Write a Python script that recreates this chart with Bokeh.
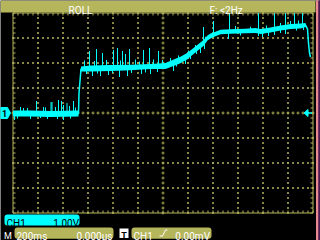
import numpy as np
from bokeh.plotting import figure
from bokeh.models import BoxAnnotation, Label
from bokeh.core.properties import value
from bokeh.embed import file_html
from bokeh.resources import INLINE

# ---------------- data (time in ms, voltage in V) ----------------
time_ms = [0, 140, 300, 524, 528, 536, 544, 620, 780, 940, 1100, 1220, 1300, 1340,
           1396, 1444, 1484, 1524, 1556, 1580, 1620, 1660, 1740, 1860, 1940, 1980,
           2060, 2140, 2220, 2300, 2340, 2356, 2364, 2372, 2380]
volts = [-0.02, -0.02, -0.04, -0.02, 0.8, 1.28, 1.76, 1.78, 1.8, 1.82, 1.86, 1.88,
         2.04, 2.12, 2.28, 2.48, 2.64, 2.8, 3.0, 3.08, 3.16, 3.24, 3.26, 3.28, 3.3,
         3.26, 3.32, 3.4, 3.46, 3.48, 3.52, 3.36, 2.8, 2.4, 2.24]
noise_band = [0.12, 0.12, 0.12, 0.12, 0, 0, 0.1, 0.12, 0.12, 0.11, 0.1, 0.12,
              0.13, 0.13, 0.13, 0.12, 0.12, 0.12, 0.1, 0.1, 0.09, 0.09, 0.09, 0.09,
              0.1, 0.1, 0.1, 0.1, 0.1, 0.1, 0.08, 0, 0, 0, 0]

spike_up_t = [60, 84, 116, 188, 244, 260, 304, 312, 340, 364, 388, 404, 432, 452, 484, 500,
              572, 612, 652, 668, 716, 748, 804, 836, 860, 876, 900, 932, 980, 1012, 1044,
              1092, 1124, 1164, 1196,
              1260, 1324, 1404, 1460, 1524, 1540, 1604, 1732,
              1780, 1900, 1964, 2028, 2092, 2140, 2180, 2220, 2252, 2284, 2316]
spike_up_v = [0.24, 0.2, 0.2, 0.48, 0.24, 0.22, 0.44, 0.44, 0.24, 0.52, 0.48, 0.32, 0.4, 0.28, 0.48, 0.22,
              2.1, 2.48, 2.08, 2.56, 2.4, 2.12, 2.52, 2.6, 2.1, 2.48, 2.36, 2.56, 2.14, 2.06, 2.52,
              2.6, 2.14, 2.48, 2.12,
              2.2, 2.3, 2.5, 2.72, 3.44, 3.05, 3.68, 4.0,
              3.48, 3.45, 4.0, 3.5, 4.0, 3.6, 4.0, 3.68, 4.0, 3.7, 4.0]
spike_dn_t = [12, 36, 140, 220, 276, 356, 404, 460,
              588, 636, 676, 700, 764, 796, 852, 916, 948, 1028, 1060, 1100, 1156,
              1284, 1308, 1380, 1420, 1468, 1500, 1532, 1724,
              1820, 1964, 1996, 2044, 2092, 2140, 2180, 2268, 2324]
spike_dn_v = [-0.28, -0.22, -0.24, -0.2, -0.24, -0.24, -0.28, -0.22,
              1.56, 1.48, 1.58, 1.48, 1.52, 1.6, 1.44, 1.48, 1.6, 1.56, 1.62, 1.56, 1.64,
              1.68, 1.86, 1.96, 2.16, 2.36, 2.4, 2.56, 2.96,
              3.1, 3.08, 3.04, 3.08, 3.12, 3.2, 3.16, 3.3, 3.32]

# ---------------- readouts ----------------
mode_text = "ROLL"
freq_text = "F: <2Hz"
ch_name = "CH1"
ch_scale = "1.00V"
time_mark = "M"
time_scale = "200ms"
time_offset = "0.000µs"
trig_mark = "T"
trig_src = "CH1"
trig_level = "0.00mV"

MS_PER_DIV = 200
V_PER_DIV = 1.0
PX_PER_DIV = 25.0

OLIVE = "#B5B55C"
GRIDC = "#A9A955"
CYAN = "#00FFFF"
FONT = value("Roboto")


def X(px):
    return (px - 12.5) / PX_PER_DIV * MS_PER_DIV


def Y(py):
    return (112.5 - py) / PX_PER_DIV * V_PER_DIV


p = figure(width=320, height=240, x_range=(X(0), X(320)), y_range=(Y(240), Y(0)),
           x_axis_type=None, y_axis_type=None, toolbar_location=None, title=None,
           output_backend="svg", min_border=0)
p.background_fill_color = "black"
p.border_fill_color = "black"
p.outline_line_color = None

# top bar and right stripes
p.add_layout(BoxAnnotation(left=X(0), right=X(315), top=Y(0), bottom=Y(12),
                           fill_color=OLIVE, fill_alpha=1, line_color=None, level="underlay"))
p.quad(left=X(316), right=X(318.3), top=Y(0), bottom=Y(240), color="#E98A93")
p.quad(left=X(318.3), right=X(320), top=Y(0), bottom=Y(240), color="#4A1C50")

# dotted grid
dots_x, dots_y = [], []
for k in range(1, 12):
    if k == 6:
        continue
    for j in range(0, 41):
        dots_x.append(12.5 + 25 * k)
        dots_y.append(12.5 + 5 * j)
for k in range(1, 8):
    if k == 4:
        continue
    for j in range(0, 61):
        dots_x.append(12.5 + 5 * j)
        dots_y.append(12.5 + 25 * k)
dots_x = np.array(dots_x)
dots_y = np.array(dots_y)
p.quad(left=X(dots_x - 0.5), right=X(dots_x + 0.5), top=Y(dots_y - 0.5),
       bottom=Y(dots_y + 0.5), color=GRIDC)

# center crosshair with + marks
cx = np.arange(12.5, 313, 5.0)
cy = np.arange(12.5, 213, 5.0)
p.segment(x0=X(cx - 1.5), y0=Y(112.5), x1=X(cx + 1.5), y1=Y(112.5), color=GRIDC, line_width=1)
p.segment(x0=X(cx), y0=Y(111), x1=X(cx), y1=Y(114), color=GRIDC, line_width=1)
p.segment(x0=X(162.5), y0=Y(cy - 1.5), x1=X(162.5), y1=Y(cy + 1.5), color=GRIDC, line_width=1)
p.segment(x0=X(161), y0=Y(cy), x1=X(164), y1=Y(cy), color=GRIDC, line_width=1)

# border with ruler ticks
p.segment(x0=X(np.array([12.5, 312.5, 12.5, 12.5])), y0=Y(np.array([12.5, 12.5, 12.5, 212.5])),
          x1=X(np.array([12.5, 312.5, 312.5, 312.5])), y1=Y(np.array([212.5, 212.5, 12.5, 212.5])),
          color=OLIVE, line_width=1)
p.segment(x0=X(cx), y0=Y(12.5), x1=X(cx), y1=Y(15), color=OLIVE, line_width=1)
p.segment(x0=X(cx), y0=Y(210), x1=X(cx), y1=Y(212.5), color=OLIVE, line_width=1)
p.segment(x0=X(12.5), y0=Y(cy), x1=X(15), y1=Y(cy), color=OLIVE, line_width=1)
p.segment(x0=X(310), y0=Y(cy), x1=X(312.5), y1=Y(cy), color=OLIVE, line_width=1)

# ---------------- trace ----------------
t = np.array(time_ms, dtype=float)
v = np.array(volts)
b = np.array(noise_band)
p.varea(x=t, y1=v - b, y2=v + b, fill_color=CYAN)
p.line(t, v, color=CYAN, line_width=1.5)
su_t = np.array(spike_up_t, dtype=float)
sd_t = np.array(spike_dn_t, dtype=float)
p.segment(x0=su_t, y0=np.interp(su_t, t, v), x1=su_t, y1=spike_up_v, color=CYAN, line_width=1)
p.segment(x0=sd_t, y0=np.interp(sd_t, t, v), x1=sd_t, y1=spike_dn_v, color=CYAN, line_width=1)

# channel ground marker (left) and trigger level marker (right)
p.patch(X(np.array([0, 7, 10, 7, 0])), Y(np.array([107, 107, 112.5, 118, 118])), color=CYAN)
p.patch(X(np.array([303.5, 307.5, 307.5])), Y(np.array([112.5, 109, 116])), color=CYAN)
p.segment(x0=[X(307)], y0=[Y(112.5)], x1=[X(311.5)], y1=[Y(112.5)], color=CYAN, line_width=1.5)

# bottom readout boxes
p.add_layout(BoxAnnotation(left=X(4), right=X(79), top=Y(214), bottom=Y(225),
                           fill_color=CYAN, fill_alpha=1, line_color=None,
                           border_radius=3, level="underlay"))
p.add_layout(BoxAnnotation(left=X(14), right=X(113), top=Y(227), bottom=Y(238.3),
                           fill_color=OLIVE, fill_alpha=1, line_color=None,
                           border_radius=3, level="underlay"))
p.add_layout(BoxAnnotation(left=X(119), right=X(128), top=Y(228), bottom=Y(237.5),
                           fill_color="white", fill_alpha=1, line_color=None, level="underlay"))
p.add_layout(BoxAnnotation(left=X(131), right=X(211), top=Y(227), bottom=Y(238.3),
                           fill_color=OLIVE, fill_alpha=1, line_color=None,
                           border_radius=3, level="underlay"))
p.line(X(np.array([159, 162, 165, 167])), Y(np.array([235.5, 235.5, 229.5, 229.5])),
       color="white", line_width=1)


def label(px, py, txt, color, align="left", size="10px", bold=False, baseline="alphabetic"):
    p.add_layout(Label(x=X(px), y=Y(py), text=txt, text_font="Roboto", text_font_size=size,
                       text_font_style="bold" if bold else "normal", text_color=color,
                       text_align=align, text_baseline=baseline))


label(4, 112.5, "1", "black", align="center", size="9px", bold=True, baseline="middle")
label(80, 9.5, mode_text, "white", align="center")
label(209, 9.5, freq_text, "white")
label(6, 223.3, ch_name, "black")
label(78.5, 223.3, ch_scale, "black", align="right")
label(3.5, 235.5, time_mark, "white", size="9px")
label(16, 235.5, time_scale, "white")
label(112, 235.5, time_offset, "white", align="right")
label(123.5, 235.5, trig_mark, "black", align="center", size="9px", bold=True)
label(133, 235.5, trig_src, "white")
label(209.5, 235.5, trig_level, "white", align="right")

open("out.html", "w").write(file_html(p, INLINE))
